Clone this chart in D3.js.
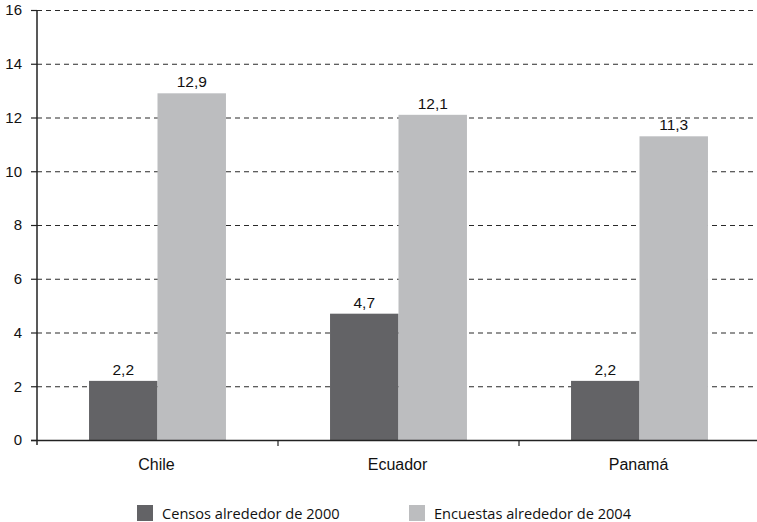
<!DOCTYPE html>
<html><head><meta charset="utf-8">
<script src="https://cdn.jsdelivr.net/npm/d3@7"></script>
<style>body{margin:0;background:#fff}svg{display:block}</style>
</head><body>
<svg id="c" width="757" height="522"></svg>
<script>
const categories = ["Chile", "Ecuador", "Panamá"];
const seriesNames = ["Censos alrededor de 2000", "Encuestas alrededor de 2004"];
const censos = [2.2, 4.7, 2.2];
const encuestas = [12.9, 12.1, 11.3];
const yTicks = [0, 2, 4, 6, 8, 10, 12, 14, 16];
const colors = ["#636366", "#bcbdbf"];

(function () {
const svg = d3.select("#c");
const mLeft = 37, mRight = 757, mTop = 10, mBottom = 440;
const axisFont = "Liberation Sans, Arial, Helvetica, sans-serif";

const y = d3.scaleLinear().domain([0, 16]).range([mBottom, mTop]);
const x0 = d3.scaleBand().domain(categories).range([mLeft, 760]).paddingInner(0).paddingOuter(0);
const x1 = d3.scaleBand().domain(seriesNames).range([0, x0.bandwidth()]).paddingInner(0).paddingOuter(0.76);

// gridlines
svg.append("g").selectAll("line").data(yTicks.filter(d => d > 0)).join("line")
  .attr("x1", mLeft).attr("x2", mRight)
  .attr("y1", d => y(d) + 0.5).attr("y2", d => y(d) + 0.5)
  .attr("stroke", "#2a2a2a").attr("stroke-width", 1.2).attr("stroke-dasharray", "5,4");

// bars
const data = categories.map((c, i) => ({ c, vals: [censos[i], encuestas[i]] }));
const g = svg.append("g").selectAll("g").data(data).join("g")
  .attr("transform", d => `translate(${x0(d.c)},0)`);
g.selectAll("rect").data(d => d.vals.map((v, j) => ({ v, s: seriesNames[j], j }))).join("rect")
  .attr("x", d => x1(d.s)).attr("width", x1.bandwidth())
  .attr("y", d => y(d.v)).attr("height", d => mBottom - y(d.v))
  .attr("fill", d => colors[d.j]);
g.selectAll("text").data(d => d.vals.map((v, j) => ({ v, s: seriesNames[j] }))).join("text")
  .attr("x", d => x1(d.s) + x1.bandwidth() / 2).attr("y", d => y(d.v) - 6)
  .attr("text-anchor", "middle").style("font-family", axisFont).attr("font-size", 15.5)
  .attr("fill", "#111").text(d => String(d.v).replace(".", ","));

// y axis
const yAxis = d3.axisLeft(y).tickValues(yTicks).tickSize(6).tickPadding(9).tickFormat(d3.format("d"));
const ya = svg.append("g").attr("transform", `translate(${mLeft},0)`).call(yAxis);
ya.attr("font-family", null).attr("font-size", null);
ya.select(".domain").remove();
ya.append("line").attr("x1", 0).attr("x2", 0).attr("y1", mTop).attr("y2", mBottom + 5).attr("stroke", "#222").attr("stroke-width", 1.5);
ya.selectAll(".tick line").attr("stroke", "#222").attr("stroke-width", 1.2);
ya.selectAll("text").style("font-family", axisFont).attr("font-size", 15).attr("fill", "#111");

// x axis
svg.append("line").attr("x1", mLeft - 6).attr("x2", mRight).attr("y1", mBottom + 0.5).attr("y2", mBottom + 0.5)
  .attr("stroke", "#222").attr("stroke-width", 1.5);
svg.append("g").selectAll("line").data(categories.slice(1)).join("line")
  .attr("x1", d => x0(d)).attr("x2", d => x0(d)).attr("y1", mBottom).attr("y2", mBottom + 6)
  .attr("stroke", "#222").attr("stroke-width", 1.2);
svg.append("g").selectAll("text").data(categories).join("text")
  .attr("x", d => x0(d) + x0.bandwidth() / 2 - 1).attr("y", 470)
  .attr("text-anchor", "middle").style("font-family", axisFont).attr("font-size", 16)
  .attr("fill", "#111").text(d => d);

// legend
const legX = [137, 409];
const leg = svg.append("g").selectAll("g").data(seriesNames).join("g")
  .attr("transform", (d, i) => `translate(${legX[i]},0)`);
leg.append("rect").attr("x", 0).attr("y", 505).attr("width", 16).attr("height", 16).attr("fill", (d, i) => colors[i]);
leg.append("text").attr("x", 25).attr("y", 519).style("font-family", "'Open Sans', sans-serif")
  .attr("font-size", 14.6).attr("fill", "#111").text(d => d);
})();
</script>
</body></html>
